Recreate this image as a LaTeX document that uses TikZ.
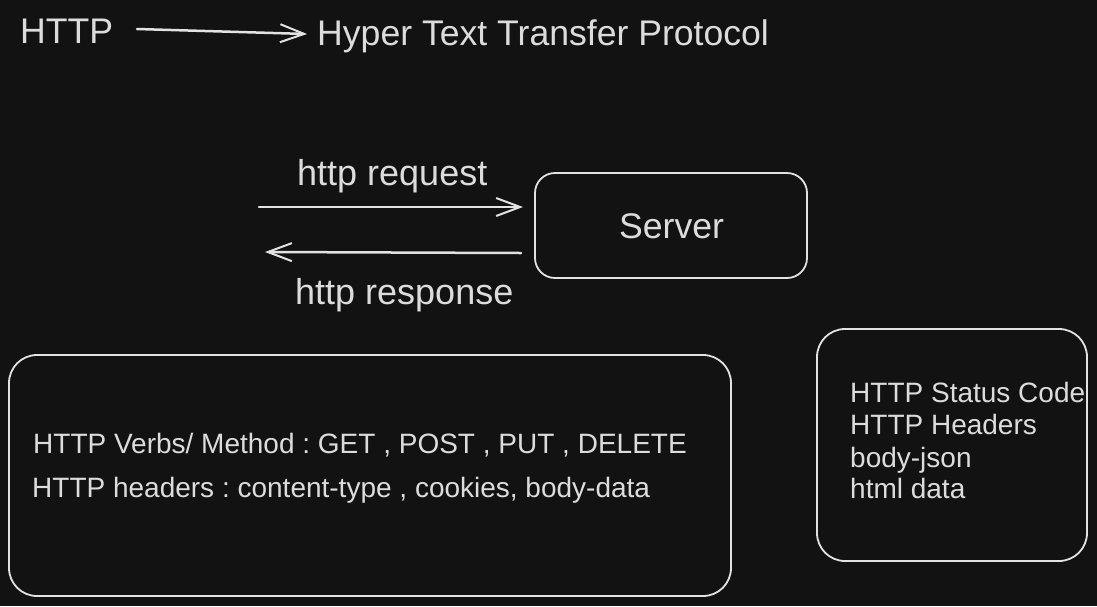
\documentclass[tikz,border=0pt]{standalone}
\usepackage{fontspec}
\setmainfont{Liberation Sans}
\usetikzlibrary{arrows.meta}
\definecolor{bg}{HTML}{121212}
\definecolor{ink}{HTML}{E2E2E2}
\definecolor{txt}{HTML}{DCDCDC}
\frenchspacing
\begin{document}
\begin{tikzpicture}[x=1pt,y=-1pt,
  lbl/.style={anchor=base west,inner sep=0pt,text=txt},
  big/.style={lbl,font=\fontsize{35.6}{40}\selectfont},
  mid/.style={lbl,font=\fontsize{36}{40}\selectfont},
  small/.style={lbl,font=\fontsize{28}{32}\selectfont},
  conn/.style={draw=ink,line width=2.5pt,line cap=round,-{Straight Barb[length=24pt,width=18pt,line width=2pt]}},
  card/.style={draw=ink,line width=1.8pt}
]
\useasboundingbox[fill=bg] (0,0) rectangle (1097,606);
% title
\node[big] (http) at (20,43) {HTTP};
\node[big] (hyper) at (317,45) {Hyper Text Transfer Protocol};
\coordinate (a1) at (137,29);
\coordinate (a2) at (307,34);
\draw[conn] (a1) -- (a2);
% server
\draw[card,rounded corners=20pt] (535,173) rectangle (807,278);
\node[big] (server) at (619,238) {Server};
\node[mid] (req) at (297,185) {http request};
\node[mid] (resp) at (295,304) {http response};
\coordinate (r1) at (259,207);
\coordinate (r2) at (523,207);
\coordinate (s1) at (521,253);
\coordinate (s2) at (265,252);
\draw[conn] (r1) -- (r2);
\draw[conn] (s1) -- (s2);
% request box
\draw[card,rounded corners=28pt] (9,355) rectangle (731,596);
\node[small] (verbs) at (33,453) {HTTP Verbs/ Method : GET , POST , PUT , DELETE};
\node[small] (hdrs) at (32,497) {HTTP headers : content-type , cookies, body-data};
% response box
\draw[card,rounded corners=28pt] (817,329) rectangle (1087,561);
\node[small] (st) at (850,402) {HTTP Status Code};
\node[small] (hh) at (850,434) {HTTP Headers};
\node[small] (bj) at (850,467) {body-json};
\node[small] (hd) at (850,498) {html data};
\end{tikzpicture}
\end{document}
